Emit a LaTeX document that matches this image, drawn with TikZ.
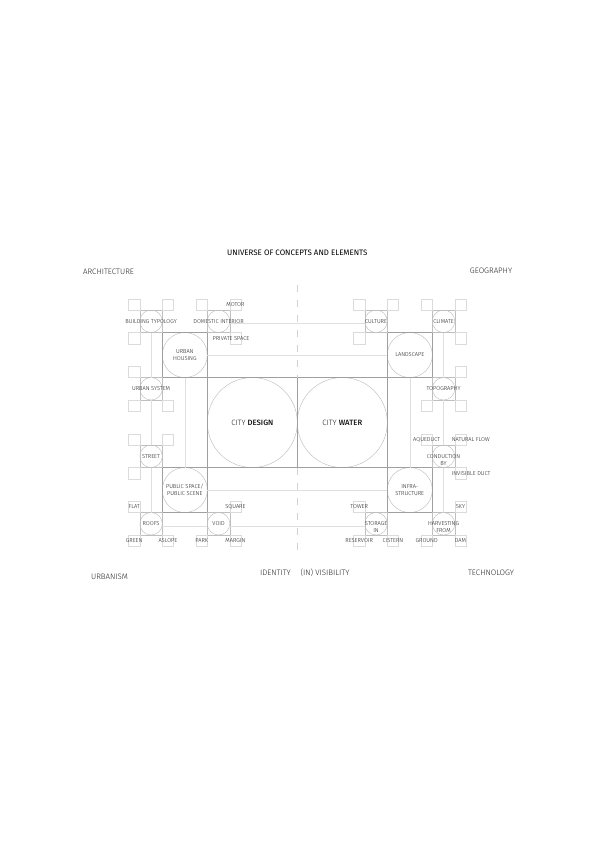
\documentclass[tikz,border=0pt]{standalone}
\usepackage{fontspec}
\setmainfont{Fira Sans}[UprightFont=* Light, BoldFont=* Medium]
\newfontfamily\titlefont{Fira Sans}
\usetikzlibrary{positioning}

\begin{document}
\begin{tikzpicture}[x=11.25pt, y=11.25pt,
	every node/.style={font=\fontsize{5.7}{7.3}\selectfont, text=black!90, inner sep=0pt, outer sep=0pt},
	big/.style={draw=gray!75, line width=0.5pt, minimum size=90pt,
		path picture={\draw[ring] (path picture bounding box.center) circle (45pt);}},
	mid/.style={draw=gray!75, line width=0.45pt, minimum size=45pt,
		path picture={\draw[ring] (path picture bounding box.center) circle (22.5pt);}},
	cell/.style={draw=gray!50, line width=0.4pt, minimum size=22.5pt,
		path picture={\draw[ring] (path picture bounding box.center) circle (11.25pt);}},
	corner/.style={draw=gray!28, line width=0.4pt, minimum size=11.25pt},
	ring/.style={draw=gray!55, line width=0.4pt},
	link/.style={draw=gray!25, line width=0.4pt},
	axis/.style={draw=gray!35, line width=1.1pt, dash pattern=on 7pt off 8pt},
	head/.style={font=\fontsize{7.9}{9}\selectfont, text=black!85}]

\useasboundingbox (-26.43,-37.29) rectangle (26.46,37.56);

\node[big] (design) at (-4,0) {};
\node[big] (water) at (4,0) {};

\node[mid] (housing) at (-10,6) {};
\node[mid] (public) at (-10,-6) {};
\node[mid] (landscape) at (10,6) {};
\node[mid] (infra) at (10,-6) {};

\node[cell] (typology) at (-13,9) {};
\node[cell] (interior) at (-7,9) {};
\node[cell] (system) at (-13,3) {};
\node[cell] (street) at (-13,-3) {};
\node[cell] (roofs) at (-13,-9) {};
\node[cell] (void) at (-7,-9) {};
\node[cell] (culture) at (7,9) {};
\node[cell] (climate) at (13,9) {};
\node[cell] (topo) at (13,3) {};
\node[cell] (conduct) at (13,-3) {};
\node[cell] (harvest) at (13,-9) {};
\node[cell] (storage) at (7,-9) {};

%corner squares
\node[corner, above left=0pt of typology] (typology-a) {};
\node[corner, above right=0pt of typology] (typology-b) {};
\node[corner, below left=0pt of typology] (typology-c) {};
\node[corner, above left=0pt of interior] (interior-a) {};
\node[corner, above right=0pt of interior] (interior-b) {};
\node[corner, below right=0pt of interior] (interior-c) {};
\node[corner, above left=0pt of system] (system-a) {};
\node[corner, below left=0pt of system] (system-b) {};
\node[corner, below right=0pt of system] (system-c) {};
\node[corner, above left=0pt of street] (street-a) {};
\node[corner, above right=0pt of street] (street-b) {};
\node[corner, below left=0pt of street] (street-c) {};
\node[corner, above left=0pt of roofs] (roofs-a) {};
\node[corner, below left=0pt of roofs] (roofs-b) {};
\node[corner, below right=0pt of roofs] (roofs-c) {};
\node[corner, above right=0pt of void] (void-a) {};
\node[corner, below left=0pt of void] (void-b) {};
\node[corner, below right=0pt of void] (void-c) {};
\node[corner, above left=0pt of culture] (culture-a) {};
\node[corner, above right=0pt of culture] (culture-b) {};
\node[corner, below left=0pt of culture] (culture-c) {};
\node[corner, above left=0pt of climate] (climate-a) {};
\node[corner, above right=0pt of climate] (climate-b) {};
\node[corner, below right=0pt of climate] (climate-c) {};
\node[corner, above right=0pt of topo] (topo-a) {};
\node[corner, below left=0pt of topo] (topo-b) {};
\node[corner, below right=0pt of topo] (topo-c) {};
\node[corner, above left=0pt of conduct] (conduct-a) {};
\node[corner, above right=0pt of conduct] (conduct-b) {};
\node[corner, below right=0pt of conduct] (conduct-c) {};
\node[corner, above right=0pt of harvest] (harvest-a) {};
\node[corner, below left=0pt of harvest] (harvest-b) {};
\node[corner, below right=0pt of harvest] (harvest-c) {};
\node[corner, above left=0pt of storage] (storage-a) {};
\node[corner, below left=0pt of storage] (storage-b) {};
\node[corner, below right=0pt of storage] (storage-c) {};

%links
\draw[link] ([yshift=-1.8pt]interior.east) -- ([yshift=-1.8pt]culture.west);
\draw[link] (housing.east) -- (landscape.west);
\draw[link] (public.east) -- (infra.west);
\draw[link] ([yshift=-2.5pt]roofs.east) -- ([yshift=-2.5pt]void.west);
\draw[link] ([yshift=-2.5pt]void.east) -- ([yshift=-2.5pt]storage.west);
\draw[link] (typology.south) -- (system.north);
\draw[link] (system.south) -- (street.north);
\draw[link] (street.south) -- (roofs.north);
\draw[link] (housing.south) -- (public.north);
\draw[link] (landscape.south) -- (infra.north);
\draw[link] (climate.south) -- (topo.north);
\draw[link] (topo.south) -- (conduct.north);
\draw[link] (conduct.south) -- (harvest.north);

%axis
\coordinate (axis-top) at (0,12.2);
\coordinate (axis-bot) at (0,-11.8);
\draw[axis] (axis-top) -- (design.north east);
\draw[axis] (design.south east) -- (axis-bot);

\node[font=\fontsize{7.7}{9}\selectfont] (design-t) at (design) {CITY \textbf{DESIGN}};
\node[font=\fontsize{7.7}{9}\selectfont] (water-t) at (water) {CITY \textbf{WATER}};

\node[align=center] (housing-t) at (housing) {URBAN\\HOUSING};
\node[align=center] (public-t) at (public) {PUBLIC SPACE/\\PUBLIC SCENE};
\node (landscape-t) at (landscape) {LANDSCAPE};
\node[align=center] (infra-t) at (infra) {INFRA-\\STRUCTURE};

\node (typology-t) at (typology) {BUILDING TYPOLOGY};
\node (interior-t) at (interior) {DOMESTIC INTERIOR};
\node (system-t) at (system) {URBAN SYSTEM};
\node (street-t) at (street) {STREET};
\node (roofs-t) at (roofs) {ROOFS};
\node (void-t) at (void) {VOID};
\node (culture-t) at (culture) {CULTURE};
\node (climate-t) at (climate) {CLIMATE};
\node (topo-t) at (topo) {TOPOGRAPHY};
\node[align=center, yshift=-3.6pt] (conduct-t) at (conduct) {CONDUCTION\\BY};
\node[align=center, yshift=-3.6pt] (harvest-t) at (harvest) {HARVESTING\\FROM};
\node[align=center, yshift=-3.6pt] (storage-t) at (storage) {STORAGE\\IN};

\node (motor) at (interior-b) {MOTOR};
\node[xshift=-4.5pt] (private) at (interior-c) {PRIVATE SPACE};
\node (flat) at (roofs-a) {FLAT};
\node (green) at (roofs-b) {GREEN};
\node (aslope) at (roofs-c) {ASLOPE};
\node (square) at (void-a) {SQUARE};
\node (park) at (void-b) {PARK};
\node (margin) at (void-c) {MARGIN};
\node (aqueduct) at (conduct-a) {AQUEDUCT};
\node[anchor=west, xshift=-3pt] (natural) at (conduct-b.west) {NATURAL FLOW};
\node[anchor=west, xshift=-3pt] (invisible) at (conduct-c.west) {INVISIBLE DUCT};
\node (sky) at (harvest-a) {SKY};
\node (ground) at (harvest-b) {GROUND};
\node (dam) at (harvest-c) {DAM};
\node (tower) at (storage-a) {TOWER};
\node (reservoir) at (storage-b) {RESERVOIR};
\node (cistern) at (storage-c) {CISTERN};

\node[font=\titlefont\fontsize{7.9}{9}\selectfont, text=black] (title) at (0,15.07) {UNIVERSE OF CONCEPTS AND ELEMENTS};
\node[head] (architecture) at (-16.78,13.38) {ARCHITECTURE};
\node[head] (geography) at (17.22,13.47) {GEOGRAPHY};
\node[head] (urbanism) at (-16.69,-13.73) {URBANISM};
\node[head] (identity) at (-1.94,-13.38) {IDENTITY};
\node[head] (visibility) at (2.46,-13.38) {(IN) VISIBILITY};
\node[head] (technology) at (17.22,-13.38) {TECHNOLOGY};

\end{tikzpicture}
\end{document}
